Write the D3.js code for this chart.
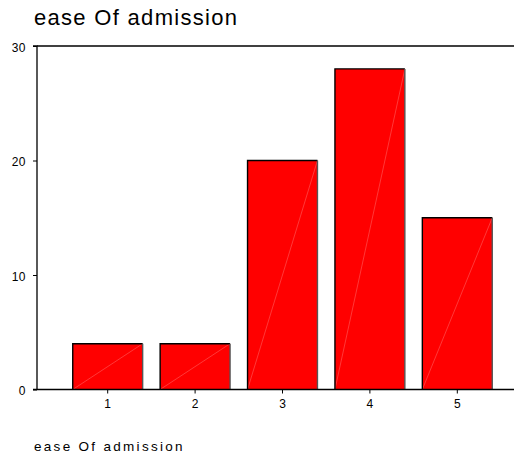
<!DOCTYPE html>
<html><head><meta charset="utf-8">
<script src="https://cdn.jsdelivr.net/npm/d3@7"></script>
<style>body{margin:0;background:#fff}svg{display:block}text{font-family:"Liberation Sans",Arial,sans-serif}</style>
</head><body><svg id="c" width="515" height="455"></svg>
<script>
const categories = ["1","2","3","4","5"];
const counts = [4,4,20,28,15];
const yTicks = [0,10,20,30];
const title = "ease Of admission";
const xTitle = "ease Of admission";

const svg = d3.select("#c");
const x = d3.scaleBand().domain(categories).range([64,501]).paddingInner(0.2).paddingOuter(0.1);
const y = d3.scaleLinear().domain([0,30]).range([389.5,46]);

svg.append("text").attr("x",34).attr("y",25).attr("font-size",22).attr("letter-spacing",1.3).attr("fill","#000").text(title);

svg.append("line").attr("x1",37).attr("x2",514).attr("y1",y(30)).attr("y2",y(30)).attr("stroke","#000").attr("stroke-width",1.3);

const g = svg.append("g");
counts.forEach((v,i)=>{
  const x0 = x(categories[i]), w = x.bandwidth(), y0 = y(v), y1 = y(0);
  g.append("rect").attr("x",x0).attr("y",y0).attr("width",w).attr("height",y1-y0).attr("fill","#ff0000");
  g.append("line").attr("x1",x0).attr("y1",y1).attr("x2",x0+w).attr("y2",y0).attr("stroke","#ff7070").attr("stroke-width",0.5);
  g.append("path").attr("d",`M${x0},${y1}V${y0}H${x0+w}`).attr("fill","none").attr("stroke","#000").attr("stroke-width",1.4);
  g.append("line").attr("x1",x0+w).attr("x2",x0+w).attr("y1",y0).attr("y2",y1).attr("stroke","#555").attr("stroke-width",1.4);
});

const ya = svg.append("g").attr("transform","translate(37,0)")
  .call(d3.axisLeft(y).tickValues(yTicks).tickSize(4).tickPadding(7).tickFormat(d3.format("d")));
ya.select(".domain").attr("stroke-width",1.3).attr("d",`M-4,${y(30)}H0V${y(0)}`);
ya.selectAll(".tick text").attr("font-size",12).attr("letter-spacing",0.5).attr("font-family","Liberation Sans, Arial, sans-serif").attr("fill","#000").attr("dy","0.45em");

const xa = svg.append("g").attr("transform",`translate(0,${y(0)})`)
  .call(d3.axisBottom(x).tickSize(4).tickPadding(6));
xa.select(".domain").attr("stroke-width",1.3).attr("d","M33,0H514");
xa.selectAll(".tick text").attr("font-size",12).attr("font-family","Liberation Sans, Arial, sans-serif").attr("fill","#000");

svg.append("text").attr("x",34).attr("y",451).attr("font-size",13.5).attr("letter-spacing",2.3).attr("fill","#000").text(xTitle);
</script></body></html>
